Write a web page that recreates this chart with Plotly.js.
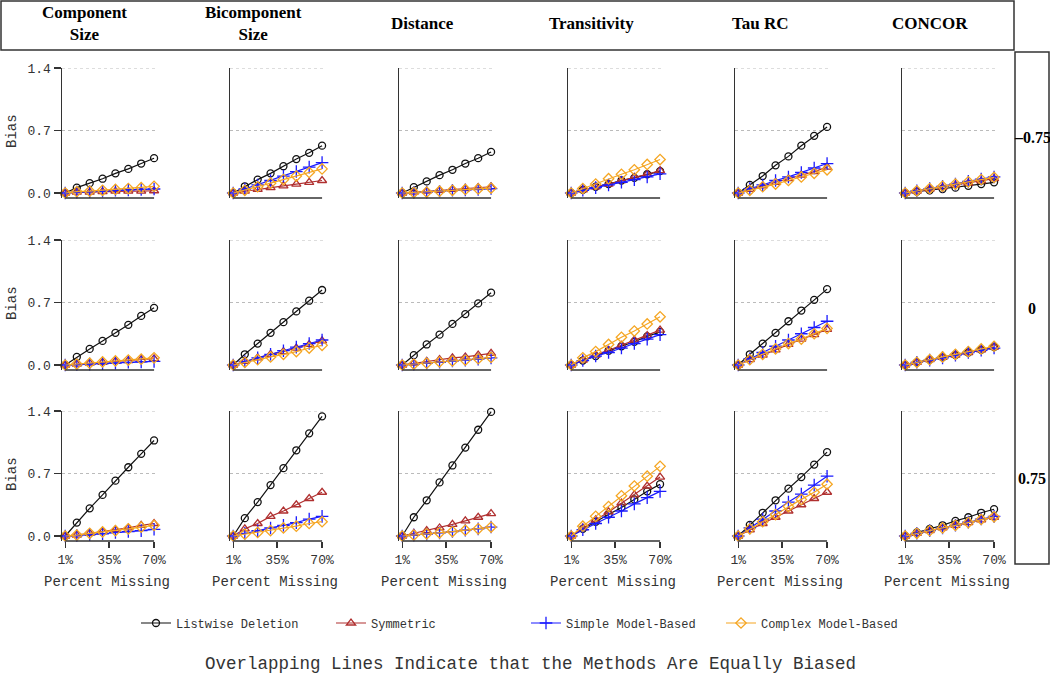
<!DOCTYPE html>
<html>
<head>
<meta charset="utf-8">
<script src="https://cdn.plot.ly/plotly-3.0.1.min.js"></script>
<style>
  html, body { margin: 0; padding: 0; background: #fff; }
  #chart { width: 1050px; height: 676px; }
</style>
</head>
<body>
<div id="chart"></div>
<script>
// percent missing (x) and panel labels
const pctMissing = [1, 10, 20, 30, 40, 50, 60, 70];
const xTickVals = [1, 35, 70];
const xTickText = ['1%', '35%', '70%'];
const yTickVals = [0, 0.7, 1.4];
const yTickText = ['0.0', '0.7', '1.4'];
const measures = ['Component<br>Size', 'Bicomponent<br>Size', 'Distance', 'Transitivity', 'Tau RC', 'CONCOR'];
const rowLabels = ['\u20130.75', '0', '0.75'];
const methods = ['Listwise Deletion', 'Symmetric', 'Simple Model-Based', 'Complex Model-Based'];

// bias values: [row][column][point]
const listwise = [
  [[0, 0.06, 0.11, 0.16, 0.22, 0.27, 0.33, 0.39],
   [0, 0.075, 0.15, 0.22, 0.30, 0.38, 0.45, 0.53],
   [0, 0.065, 0.13, 0.20, 0.26, 0.33, 0.39, 0.46],
   [0, 0.035, 0.07, 0.10, 0.14, 0.17, 0.21, 0.245],
   [0, 0.09, 0.19, 0.31, 0.41, 0.53, 0.64, 0.74],
   [0, 0.015, 0.03, 0.045, 0.06, 0.08, 0.10, 0.12]],
  [[0, 0.09, 0.18, 0.27, 0.36, 0.45, 0.55, 0.64],
   [0, 0.12, 0.24, 0.36, 0.48, 0.60, 0.72, 0.84],
   [0, 0.11, 0.23, 0.34, 0.46, 0.57, 0.69, 0.81],
   [0, 0.05, 0.10, 0.16, 0.21, 0.26, 0.32, 0.37],
   [0, 0.12, 0.24, 0.36, 0.49, 0.61, 0.73, 0.85],
   [0, 0.03, 0.06, 0.085, 0.11, 0.14, 0.17, 0.20]],
  [[0, 0.15, 0.31, 0.46, 0.62, 0.77, 0.92, 1.07],
   [0, 0.20, 0.38, 0.57, 0.76, 0.96, 1.15, 1.34],
   [0, 0.21, 0.40, 0.60, 0.79, 0.99, 1.19, 1.39],
   [0, 0.08, 0.16, 0.24, 0.32, 0.41, 0.50, 0.58],
   [0, 0.125, 0.26, 0.40, 0.53, 0.66, 0.80, 0.94],
   [0, 0.04, 0.08, 0.12, 0.17, 0.21, 0.26, 0.30]]
];
const symmetric = [
  [[0, 0.01, 0.01, 0.015, 0.02, 0.02, 0.02, 0.025],
   [0, 0.02, 0.04, 0.06, 0.08, 0.10, 0.12, 0.14],
   [0, 0.01, 0.02, 0.03, 0.04, 0.05, 0.06, 0.07],
   [0, 0.035, 0.07, 0.10, 0.14, 0.175, 0.21, 0.25],
   [0, 0.04, 0.08, 0.12, 0.16, 0.20, 0.24, 0.29],
   [0, 0.02, 0.045, 0.065, 0.09, 0.11, 0.135, 0.16]],
  [[0, 0.01, 0.02, 0.03, 0.04, 0.05, 0.06, 0.07],
   [0, 0.04, 0.08, 0.12, 0.15, 0.19, 0.23, 0.27],
   [0, 0.02, 0.04, 0.06, 0.08, 0.09, 0.11, 0.13],
   [0, 0.055, 0.11, 0.165, 0.22, 0.28, 0.33, 0.39],
   [0, 0.06, 0.11, 0.17, 0.23, 0.29, 0.34, 0.40],
   [0, 0.03, 0.06, 0.085, 0.11, 0.14, 0.17, 0.20]],
  [[0, 0.01, 0.03, 0.05, 0.07, 0.09, 0.12, 0.14],
   [0, 0.08, 0.14, 0.22, 0.28, 0.35, 0.42, 0.49],
   [0, 0.03, 0.06, 0.09, 0.13, 0.17, 0.21, 0.25],
   [0, 0.09, 0.18, 0.27, 0.37, 0.46, 0.56, 0.66],
   [0, 0.07, 0.14, 0.21, 0.28, 0.35, 0.42, 0.49],
   [0, 0.03, 0.06, 0.09, 0.12, 0.15, 0.18, 0.21]]
];
const simpleModel = [
  [[0, 0.01, 0.015, 0.02, 0.03, 0.035, 0.04, 0.045],
   [0, 0.045, 0.09, 0.14, 0.19, 0.24, 0.29, 0.34],
   [0, 0.005, 0.01, 0.02, 0.03, 0.035, 0.04, 0.05],
   [0, 0.03, 0.06, 0.09, 0.12, 0.15, 0.18, 0.215],
   [0, 0.05, 0.09, 0.14, 0.18, 0.23, 0.28, 0.33],
   [0, 0.025, 0.05, 0.075, 0.10, 0.13, 0.155, 0.18]],
  [[0, 0.005, 0.01, 0.015, 0.02, 0.03, 0.035, 0.04],
   [0, 0.04, 0.08, 0.12, 0.16, 0.20, 0.24, 0.28],
   [0, 0.01, 0.02, 0.03, 0.045, 0.055, 0.065, 0.08],
   [0, 0.05, 0.10, 0.14, 0.19, 0.24, 0.29, 0.34],
   [0, 0.07, 0.14, 0.21, 0.28, 0.35, 0.42, 0.49],
   [0, 0.03, 0.055, 0.08, 0.11, 0.14, 0.165, 0.19]],
  [[0, 0.005, 0.015, 0.025, 0.04, 0.05, 0.06, 0.075],
   [0, 0.03, 0.06, 0.09, 0.12, 0.15, 0.19, 0.22],
   [0, 0.01, 0.02, 0.035, 0.05, 0.065, 0.08, 0.10],
   [0, 0.07, 0.14, 0.21, 0.28, 0.36, 0.43, 0.50],
   [0, 0.09, 0.19, 0.28, 0.38, 0.47, 0.57, 0.67],
   [0, 0.03, 0.06, 0.09, 0.12, 0.155, 0.19, 0.22]]
];
const complexModel = [
  [[0, 0.015, 0.02, 0.03, 0.04, 0.05, 0.06, 0.075],
   [0, 0.03, 0.07, 0.11, 0.15, 0.19, 0.23, 0.27],
   [0, 0.005, 0.01, 0.02, 0.03, 0.04, 0.045, 0.055],
   [0, 0.05, 0.10, 0.16, 0.21, 0.26, 0.32, 0.375],
   [0, 0.03, 0.07, 0.10, 0.14, 0.18, 0.22, 0.26],
   [0, 0.025, 0.05, 0.075, 0.10, 0.125, 0.15, 0.175]],
  [[0, 0.01, 0.02, 0.035, 0.045, 0.055, 0.065, 0.08],
   [0, 0.03, 0.06, 0.09, 0.12, 0.15, 0.19, 0.22],
   [0, 0.01, 0.02, 0.035, 0.045, 0.055, 0.07, 0.085],
   [0, 0.08, 0.15, 0.23, 0.31, 0.38, 0.46, 0.54],
   [0, 0.06, 0.12, 0.18, 0.24, 0.29, 0.35, 0.41],
   [0, 0.03, 0.06, 0.09, 0.12, 0.15, 0.18, 0.21]],
  [[0, 0.01, 0.03, 0.045, 0.06, 0.08, 0.10, 0.12],
   [0, 0.02, 0.04, 0.06, 0.09, 0.11, 0.14, 0.16],
   [0, 0.01, 0.025, 0.035, 0.05, 0.065, 0.08, 0.10],
   [0, 0.11, 0.22, 0.33, 0.45, 0.56, 0.67, 0.78],
   [0, 0.08, 0.16, 0.24, 0.33, 0.41, 0.49, 0.58],
   [0, 0.03, 0.06, 0.09, 0.12, 0.15, 0.185, 0.215]]
];

const W = 1050, H = 676;
const MONO = 'Liberation Mono, Courier New, monospace';
const SERIF = 'Liberation Serif, Times New Roman, serif';
const AXIS = '#333';

const seriesData = [listwise, symmetric, simpleModel, complexModel];
const styles = [
  { color: '#111111', symbol: 'circle-open', size: 7 },
  { color: '#b03030', symbol: 'triangle-up-open', size: 8 },
  { color: '#1a1aff', symbol: 'cross-thin-open', size: 9 },
  { color: '#f5a623', symbol: 'diamond-open', size: 8 }
];

// panel pixel geometry
const colLeft = [62, 230, 399, 568, 735, 902];
const panelW = 94;
const rowTop = [68, 240, 411];
const panelH = 130;

const traces = [];
const layout = {
  width: W, height: H,
  margin: { l: 0, r: 0, t: 0, b: 0 },
  paper_bgcolor: '#fff', plot_bgcolor: 'rgba(0,0,0,0)',
  showlegend: true,
  legend: {
    orientation: 'h', x: 136 / W, xanchor: 'left', y: 1 - 623 / H, yanchor: 'middle',
    font: { family: MONO, size: 12, color: '#333' },
    entrywidth: 150, entrywidthmode: 'pixels', traceorder: 'normal'
  },
  shapes: [], annotations: []
};

for (let r = 0; r < 3; r++) {
  for (let c = 0; c < 6; c++) {
    const n = r * 6 + c + 1;
    const sfx = n === 1 ? '' : String(n);
    const xa = 'x' + sfx, ya = 'y' + sfx;
    layout['xaxis' + sfx] = {
      domain: [colLeft[c] / W, (colLeft[c] + panelW) / W],
      anchor: ya, range: [-1.5, 71.5],
      tickvals: xTickVals, ticktext: xTickText,
      showticklabels: r === 2, ticks: r === 2 ? 'outside' : '', ticklen: 6,
      tickcolor: AXIS, tickwidth: 1.2,
      tickfont: { family: MONO, size: 13, color: '#333' },
      showline: false, showgrid: false, zeroline: false, fixedrange: true
    };
    layout['yaxis' + sfx] = {
      domain: [1 - (rowTop[r] + panelH) / H, 1 - rowTop[r] / H],
      anchor: xa, range: [-0.056, 1.4],
      tickvals: yTickVals, ticktext: yTickText,
      showticklabels: c === 0, ticks: c === 0 ? 'outside' : '', ticklen: 7,
      tickcolor: AXIS, tickwidth: 1.2,
      tickfont: { family: MONO, size: 13, color: '#333' },
      showline: true, linecolor: AXIS, linewidth: 1.5,
      showgrid: false, zeroline: false, fixedrange: true
    };
    // dotted reference lines
    [0.7, 1.4].forEach(v => {
      layout.shapes.push({
        type: 'line', layer: 'below', xref: xa + ' domain', x0: 0, x1: 1,
        yref: ya, y0: v, y1: v, line: { color: '#bbbbbb', width: 1, dash: 'dot' }
      });
    });
    // x axis line from first to last tick
    layout.shapes.push({
      type: 'line', xref: xa, x0: 1, x1: 70, yref: ya + ' domain', y0: 0, y1: 0,
      line: { color: AXIS, width: 1.5 }
    });

    seriesData.forEach((data, m) => {
      const st = styles[m];
      traces.push({
        type: 'scatter', mode: 'lines+markers',
        x: pctMissing, y: data[r][c], xaxis: xa, yaxis: ya,
        name: methods[m], legendgroup: methods[m], showlegend: n === 1,
        line: { color: st.color, width: 1.2 },
        marker: { symbol: st.symbol, size: st.size, color: st.color, line: { color: st.color, width: 1.3 } },
        hoverinfo: 'skip', cliponaxis: false
      });
    });

    if (c === 0) {
      layout.annotations.push({
        text: 'Bias', xref: 'paper', yref: 'paper', x: 12 / W, y: 1 - (rowTop[r] + 63) / H,
        textangle: -90, showarrow: false, xanchor: 'center', yanchor: 'middle',
        font: { family: MONO, size: 14, color: '#333' }
      });
    }
    if (r === 2) {
      layout.annotations.push({
        text: 'Percent Missing', xref: 'paper', yref: 'paper',
        x: (colLeft[c] + 45) / W, y: 1 - 582 / H, showarrow: false,
        xanchor: 'center', yanchor: 'middle',
        font: { family: MONO, size: 14, color: '#333' }
      });
    }
  }
}

// header box with column titles
layout.shapes.push({
  type: 'rect', xref: 'paper', yref: 'paper', x0: 1 / W, x1: 1014 / W, y0: 1 - 50 / H, y1: 1 - 1 / H,
  line: { color: AXIS, width: 1.5 }
});
measures.forEach((m, i) => {
  layout.annotations.push({
    text: m, xref: 'paper', yref: 'paper', x: (1014 / 6 * (i + 0.5)) / W, y: 1 - 23 / H,
    showarrow: false, xanchor: 'center', yanchor: 'middle',
    font: { family: SERIF, size: 17, color: '#000', weight: 'bold' }
  });
});

// row strip on the right
layout.shapes.push({
  type: 'rect', xref: 'paper', yref: 'paper', x0: 1015 / W, x1: 1049 / W, y0: 1 - 564 / H, y1: 1 - 52 / H,
  line: { color: AXIS, width: 1.5 }
});
rowLabels.forEach((t, i) => {
  layout.annotations.push({
    text: '<b>' + t + '</b>', xref: 'paper', yref: 'paper', x: 1032 / W,
    y: 1 - (52 + 512 / 3 * (i + 0.5)) / H, showarrow: false, xanchor: 'center', yanchor: 'middle',
    font: { family: SERIF, size: 16, color: '#000' }
  });
});

layout.annotations.push({
  text: 'Overlapping Lines Indicate that the Methods Are Equally Biased',
  xref: 'paper', yref: 'paper', x: 530 / W, y: 1 - 664 / H, showarrow: false,
  xanchor: 'center', yanchor: 'middle',
  font: { family: MONO, size: 17.5, color: '#333' }
});

Plotly.newPlot('chart', traces, layout, { staticPlot: true, displayModeBar: false });
</script>
</body>
</html>
